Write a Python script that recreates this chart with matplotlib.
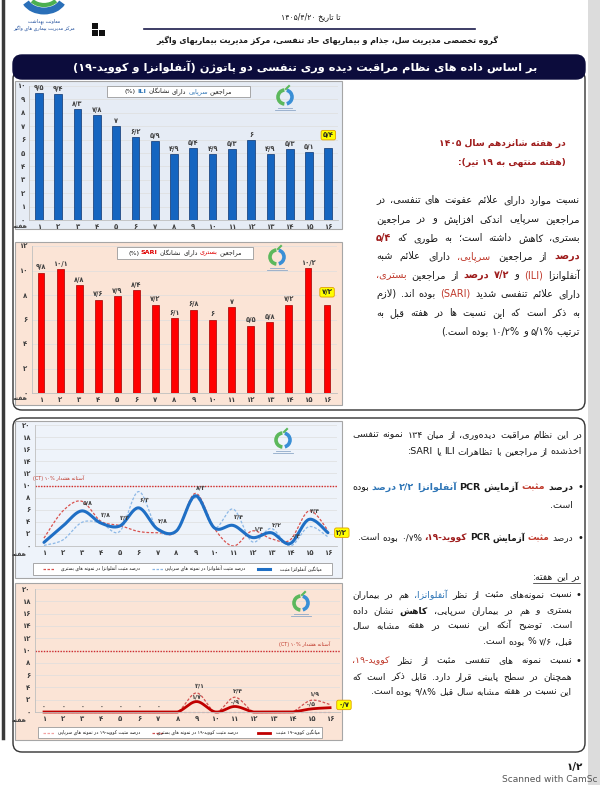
import re
import numpy as np
import matplotlib
matplotlib.use('Agg')
import matplotlib.pyplot as plt
from matplotlib.patches import FancyBboxPatch, Rectangle, Arc

plt.rcParams['font.family'] = ['DejaVu Sans']

weeks = list(range(1, 17))
ili_pct = [9.5, 9.4, 8.3, 7.8, 7.0, 6.2, 5.9, 4.9, 5.4, 4.9, 5.3, 6.0, 4.9, 5.3, 5.1, 5.4]
sari_pct = [9.8, 10.1, 8.8, 7.6, 7.9, 8.4, 7.2, 6.1, 6.8, 6.0, 7.0, 5.5, 5.8, 7.2, 10.2, 7.2]

flu_mean = [0.6, 3.3, 5.8, 3.8, 3.3, 6.3, 2.8, 2.5, 8.3, 3.0, 3.4, 1.4, 2.2, 0.4, 4.4, 2.2]
flu_outpatient = [0.1, 1.0, 3.9, 3.8, 2.4, 9.0, 2.7, 2.5, 8.0, 3.0, 6.1, 0.7, 2.9, 0.0, 3.2, 1.5]
flu_inpatient = [1.3, 5.8, 7.4, 4.1, 3.4, 2.4, 2.2, 2.4, 8.7, 2.9, 0.0, 2.5, 1.2, 1.0, 5.8, 2.6]
flu_mean_labels = [3, 4, 5, 6, 7, 9, 11, 12, 13, 14, 15]

covid_mean = [0, 0, 0, 0, 0, 0, 0, 0, 1.7, 0, 0.9, 0, 0, 0, 0.5, 0.7]
covid_inpatient = [0, 0, 0, 0, 0, 0, 0, 0, 3.1, 0, 2.4, 0, 0, 0, 1.9, 1.2]
covid_outpatient = [0, 0, 0, 0, 0, 0, 0, 0, 0, 0, 0, 0, 0, 0, 0, 0]
covid_mean_labels = [1, 2, 3, 4, 5, 6, 7, 9, 11, 15]
covid_inpatient_labels = [9, 11, 15]

alert_level = 10

# ---- minimal Persian shaping + right-to-left ordering ----
DUAL = {'ب': 0xFE8F, 'پ': 0xFB56, 'ت': 0xFE95, 'ث': 0xFE99, 'ج': 0xFE9D, 'چ': 0xFB7A,
        'ح': 0xFEA1, 'خ': 0xFEA5, 'س': 0xFEB1, 'ش': 0xFEB5, 'ص': 0xFEB9, 'ض': 0xFEBD,
        'ط': 0xFEC1, 'ظ': 0xFEC5, 'ع': 0xFEC9, 'غ': 0xFECD, 'ف': 0xFED1, 'ق': 0xFED5,
        'ک': 0xFB8E, 'گ': 0xFB92, 'ل': 0xFEDD, 'م': 0xFEE1, 'ن': 0xFEE5, 'ه': 0xFEE9,
        'ی': 0xFBFC, 'ئ': 0xFE89}
RIGHT = {'ا': 0xFE8D, 'آ': 0xFE81, 'د': 0xFEA9, 'ذ': 0xFEAB, 'ر': 0xFEAD, 'ز': 0xFEAF,
         'ژ': 0xFB8A, 'و': 0xFEED}
LTR = re.compile(r'[A-Za-z0-9\u06F0-\u06F9]+(?:[/.:\-][A-Za-z0-9\u06F0-\u06F9]+)*%?')
MIRROR = {'(': ')', ')': '('}


def shape(s):
    out, i = [], 0
    while i < len(s):
        c = s[i]
        prev = s[i - 1] if i > 0 else ''
        nxt = s[i + 1] if i + 1 < len(s) else ''
        jp = prev in DUAL
        if c == 'ل' and nxt in ('ا', 'آ'):
            out.append(chr((0xFEFB if nxt == 'ا' else 0xFEF5) + (1 if jp else 0)))
            i += 2
            continue
        if c in DUAL:
            jn = nxt in DUAL or nxt in RIGHT
            out.append(chr(DUAL[c] + ((3 if jn else 1) if jp else (2 if jn else 0))))
        elif c in RIGHT:
            out.append(chr(RIGHT[c] + (1 if jp else 0)))
        elif c != '\u200c':
            out.append(c)
        i += 1
    return ''.join(out)


def fa(s):
    s = shape(s)
    parts, pos = [], 0
    for m in LTR.finditer(s):
        if m.start() > pos:
            parts.append(('r', s[pos:m.start()]))
        parts.append(('l', m.group()))
        pos = m.end()
    if pos < len(s):
        parts.append(('r', s[pos:]))
    out = []
    for kind, p in reversed(parts):
        out.append(''.join(MIRROR.get(c, c) for c in reversed(p)) if kind == 'r' else p)
    return ''.join(out)


DIG = str.maketrans('0123456789.', '۰۱۲۳۴۵۶۷۸۹/')


def fa_num(v):
    s = f'{v:.1f}'
    if s.endswith('.0'):
        s = s[:-2]
    return s.translate(DIG)


# ---- figure ----
W, H = 600, 785
fig = plt.figure(figsize=(W / 100, H / 100), dpi=100)
fig.patch.set_facecolor('white')
page = fig.add_axes([0, 0, 1, 1], zorder=0)
top = fig.add_axes([0, 0, 1, 1], zorder=5)
for a in (page, top):
    a.set_xlim(0, W)
    a.set_ylim(H, 0)
    a.axis('off')
renderer = fig.canvas.get_renderer()

DK = '#1a1a1a'
RED_D = '#9e1b1b'
RED = '#c0392b'
BLUE = '#2e75b6'


def rich_line(ax, y, right, left, segs, size=7.3, justify=True, align='right'):
    toks = [(w, c, b) for text, c, b in segs for w in text.split()]
    objs = [ax.text(0, y, fa(w), fontsize=size, color=c, ha='right', va='center',
                    fontweight='bold' if b else 'normal') for w, c, b in toks]
    ws = [t.get_window_extent(renderer).width for t in objs]
    gap = size * 0.42
    if justify and len(objs) > 1:
        gap = (right - left - sum(ws)) / (len(objs) - 1)
    if align == 'center':
        total = sum(ws) + gap * (len(objs) - 1)
        right = (right + left) / 2 + total / 2
    x = right
    for t, w in zip(objs, ws):
        t.set_x(x)
        x -= w + gap
    return x + gap


def logo(ax, cx, cy, r):
    ax.add_patch(Arc((cx, cy), 2 * r, 2 * r, theta1=95, theta2=265, color='#5cb85c', lw=2.6))
    ax.add_patch(Arc((cx, cy), 2 * r, 2 * r, theta1=-75, theta2=75, color='#3a8fd6', lw=2.6))
    ax.plot([cx + 1, cx + 4], [cy - r - 1, cy - r - 4], color='#5cb85c', lw=1.5)
    ax.plot([cx - r, cx + r], [cy + r + 4, cy + r + 4], color='#8fa9c8', lw=0.6)
    ax.plot([cx - r - 3, cx + r + 3], [cy + r + 6, cy + r + 6], color='#8fa9c8', lw=0.6)


def chart_ax(x0, x1, ytop, ybot, ymax, ystep):
    ax = fig.add_axes([x0 / W, 1 - ybot / H, (x1 - x0) / W, (ybot - ytop) / H], zorder=2)
    ax.set_xlim(0.5, 16.5)
    ax.set_ylim(0, ymax)
    ax.patch.set_visible(False)
    for s in ('top', 'right'):
        ax.spines[s].set_visible(False)
    for s in ('left', 'bottom'):
        ax.spines[s].set_color('#bfbfbf')
        ax.spines[s].set_linewidth(0.6)
    yt = np.arange(0, ymax + 0.1, ystep)
    ax.set_yticks(yt, [fa_num(v) for v in yt])
    ax.set_xticks(weeks, [fa_num(w) for w in weeks])
    ax.tick_params(length=0, pad=3, labelsize=5, labelcolor='#404040')
    for lab in ax.get_xticklabels() + ax.get_yticklabels():
        lab.set_fontweight('bold')
    ax.grid(axis='y', color='#dedede', lw=0.5)
    ax.set_axisbelow(True)
    return ax


def highlight(ax, x, y, v, dx=0, dy=0):
    ax.annotate(fa_num(v), (x, y), xytext=(dx, dy), textcoords='offset points',
                ha='center', va='center', fontsize=5, fontweight='bold', color='#222',
                bbox=dict(boxstyle='round,pad=0.25', fc='#ffff00', ec='#e0a000', lw=0.6),
                zorder=6, annotation_clip=False)


def smooth(x, y, n=24):
    x = np.asarray(x, float)
    y = np.asarray(y, float)
    xs, ys = [], []
    for i in range(len(x) - 1):
        i0, i3 = max(i - 1, 0), min(i + 2, len(x) - 1)
        t = np.linspace(0, 1, n)[:, None]
        p0 = np.array([x[i], y[i]])
        p3 = np.array([x[i + 1], y[i + 1]])
        c1 = p0 + (np.array([x[i + 1] - x[i0], y[i + 1] - y[i0]])) / 6
        c2 = p3 - (np.array([x[i3] - x[i], y[i3] - y[i]])) / 6
        pts = (1 - t) ** 3 * p0 + 3 * (1 - t) ** 2 * t * c1 + 3 * (1 - t) * t ** 2 * c2 + t ** 3 * p3
        xs.extend(pts[:, 0])
        ys.extend(pts[:, 1])
    return xs, ys


def legend_item(ax, y, x_sample, x_text, label, color, lw, ls='-'):
    ax.plot([x_sample, x_sample + 12], [y, y], color=color, lw=lw, ls=ls)
    ax.text(x_text, y, fa(label), fontsize=3.3, color=DK, ha='right', va='center')


# ---- page decoration ----
page.add_patch(Rectangle((588, 0), 12, H, color='#dcdcdc', lw=0))
page.plot([2.5, 2.5], [0, 738], color='#3a3a3a', lw=2.5)

# header logo
page.add_patch(Arc((44, -4), 40, 30, theta1=20, theta2=160, color='#2a6fb8', lw=5))
page.add_patch(Arc((44, -6), 30, 22, theta1=30, theta2=150, color='#4caf50', lw=3))
page.text(44, 21, fa('معاونت بهداشت'), fontsize=3.4, color='#1f4e9c', ha='center', va='center')
page.text(44, 28, fa('مرکز مدیریت بیماری های واگیر'), fontsize=3.4, color='#1f4e9c', ha='center', va='center')
for rx, ry in ((92, 23), (92, 30), (99, 30)):
    page.add_patch(Rectangle((rx, ry), 6, 6, color='#111111', lw=0))

page.text(311, 17, fa('تا تاریخ ۱۴۰۵/۴/۲۰'), fontsize=5.6, color=DK, ha='center', va='center')
page.plot([144, 475], [28.5, 28.5], color='#1b1b4b', lw=1.2)
page.text(327, 40, fa('گروه تخصصی مدیریت سل، جذام و بیماریهای حاد تنفسی، مرکز مدیریت بیماریهای واگیر'),
          fontsize=5.7, fontweight='bold', color=DK, ha='center', va='center')

# section boxes
for y0, y1 in ((70, 410), (418, 752)):
    page.add_patch(FancyBboxPatch((13, y0), 572, y1 - y0, boxstyle='round,pad=0,rounding_size=9',
                                  fc='white', ec='#333333', lw=1.0))
page.add_patch(FancyBboxPatch((13, 55), 572, 24, boxstyle='round,pad=0,rounding_size=9',
                              fc='#0c0c3c', ec='#0c0c3c', lw=1))
page.text(305, 67, fa('بر اساس داده های نظام مراقبت دیده وری تنفسی دو پاتوژن (آنفلوانزا و کووید-۱۹)'),
          fontsize=8.2, fontweight='bold', color='white', ha='center', va='center')

# chart panels
panels = [(15, 81, 342, 229, '#e6ecf5'), (15, 242, 342, 405, '#fbe4d6'),
          (15, 421, 342, 578, '#eef3fa'), (15, 583, 342, 740, '#fbe4d6')]
for x0, y0, x1, y1, fc in panels:
    page.add_patch(Rectangle((x0, y0), x1 - x0, y1 - y0, fc=fc, ec='#a6a6a6', lw=0.8))

# ---- chart 1: ILI ----
ax1 = chart_ax(29.4, 338, 86, 220, 10, 1)
ax1.bar(weeks, ili_pct, width=0.4, color='#1565c0', edgecolor='#0c3570', lw=0.5)
for w, v in zip(weeks[:-1], ili_pct[:-1]):
    ax1.text(w, v + 0.15, fa_num(v), ha='center', va='bottom', fontsize=4.8,
             fontweight='bold', color='#404040')
highlight(ax1, weeks[-1], ili_pct[-1], ili_pct[-1], dy=9)
top.add_patch(Rectangle((107, 86), 143, 11, fc='white', ec='#9a9a9a', lw=0.6))
rich_line(top, 91.5, 250, 107, [('مراجعین', DK, False), ('سرپایی', BLUE, False),
                                ('دارای نشانگان', DK, False), ('ILI', BLUE, True), ('(%)', DK, False)],
          size=4.6, justify=False, align='center')
logo(top, 285, 97, 7)
top.text(20, 227, fa('هفته'), fontsize=4.5, fontweight='bold', color='#404040', ha='center', va='center')

# ---- chart 2: SARI ----
ax2 = chart_ax(31.5, 336.6, 246, 393, 12, 2)
ax2.bar(weeks, sari_pct, width=0.36, color='#ff0000', edgecolor='#a00000', lw=0.5)
for w, v in zip(weeks[:-1], sari_pct[:-1]):
    ax2.text(w, v + 0.2, fa_num(v), ha='center', va='bottom', fontsize=4.8,
             fontweight='bold', color='#404040')
highlight(ax2, weeks[-1], sari_pct[-1], sari_pct[-1], dy=9)
top.add_patch(Rectangle((117, 247), 136, 12, fc='white', ec='#9a9a9a', lw=0.6))
rich_line(top, 253, 253, 117, [('مراجعین', DK, False), ('بستری', '#e00000', False),
                               ('دارای نشانگان', DK, False), ('SARI', '#e00000', True), ('(%)', DK, False)],
          size=4.6, justify=False, align='center')
logo(top, 277, 257, 7)
top.text(20, 399, fa('هفته'), fontsize=4.5, fontweight='bold', color='#404040', ha='center', va='center')

# ---- chart 3: influenza positivity ----
ax3 = chart_ax(34.5, 337.4, 425, 546, 20, 2)
ax3.axhline(alert_level, color='#d42a2a', lw=1.0, ls=(0, (1, 1)))
sx, sy = smooth(weeks, flu_inpatient)
ax3.plot(sx, sy, color='#d9534f', lw=0.9, ls=(0, (2.2, 1.4)), clip_on=False)
sx, sy = smooth(weeks, flu_outpatient)
ax3.plot(sx, sy, color='#8db8e6', lw=0.9, ls=(0, (2.2, 1.4)), clip_on=False)
sx, sy = smooth(weeks, flu_mean)
ax3.plot(sx, sy, color='#1f6fc5', lw=2.2, clip_on=False, solid_capstyle='round')
for w in flu_mean_labels:
    ax3.annotate(fa_num(flu_mean[w - 1]), (w, flu_mean[w - 1]), xytext=(4, 4),
                 textcoords='offset points', ha='center', va='bottom', fontsize=4.5,
                 color='#404040', fontweight='bold')
highlight(ax3, weeks[-1], flu_mean[-1], flu_mean[-1], dx=10)
top.text(84, 478, fa('آستانه هشدار ۱۰% (CT)'), fontsize=3.6, color='#c0392b', ha='right', va='center')
logo(top, 283, 440, 7)
top.text(19, 555, fa('هفته'), fontsize=4.5, fontweight='bold', color='#404040', ha='center', va='center')
top.add_patch(Rectangle((33, 563), 299, 12, fc='white', ec='#9a9a9a', lw=0.6))
legend_item(top, 569, 258, 322, 'میانگین آنفلوانزا مثبت', '#1f6fc5', 2.2)
legend_item(top, 569, 152, 245, 'درصد مثبت آنفلوانزا در نمونه های سرپایی', '#8db8e6', 0.9, (0, (2, 1.2)))
legend_item(top, 569, 43, 140, 'درصد مثبت آنفلوانزا در نمونه های بستری', '#d9534f', 0.9, (0, (2, 1.2)))

# ---- chart 4: COVID-19 positivity ----
ax4 = chart_ax(34.5, 339.6, 589, 712, 20, 2)
ax4.axhline(alert_level, color='#d42a2a', lw=1.0, ls=(0, (1, 1)))
sx, sy = smooth(weeks, covid_outpatient)
ax4.plot(sx, sy, color='#f2a1a1', lw=0.9, ls=(0, (2.2, 1.4)), clip_on=False)
sx, sy = smooth(weeks, covid_inpatient)
ax4.plot(sx, np.maximum(sy, 0), color='#d05050', lw=0.9, ls=(0, (2.2, 1.4)), clip_on=False)
sx, sy = smooth(weeks, covid_mean)
ax4.plot(sx, np.maximum(sy, 0), color='#c00000', lw=2.0, clip_on=False)
for w in covid_mean_labels:
    ax4.annotate(fa_num(covid_mean[w - 1]), (w, covid_mean[w - 1]), xytext=(0, 1.5),
                 textcoords='offset points', ha='center', va='bottom', fontsize=4.5,
                 color='#404040', fontweight='bold')
for w in covid_inpatient_labels:
    ax4.annotate(fa_num(covid_inpatient[w - 1]), (w, covid_inpatient[w - 1]), xytext=(2, 3),
                 textcoords='offset points', ha='center', va='bottom', fontsize=4.5,
                 color='#404040', fontweight='bold')
highlight(ax4, weeks[-1], covid_mean[-1], covid_mean[-1], dx=10, dy=2)
top.text(330, 644, fa('آستانه هشدار ۱۰% (CT)'), fontsize=3.6, color='#c0392b', ha='right', va='center')
logo(top, 301, 603, 7)
top.text(19, 720, fa('هفته'), fontsize=4.5, fontweight='bold', color='#404040', ha='center', va='center')
top.add_patch(Rectangle((38, 727), 284, 11, fc='white', ec='#9a9a9a', lw=0.6))
legend_item(top, 732.5, 258, 320, 'میانگین کووید-۱۹ مثبت', '#c00000', 2.0)
legend_item(top, 732.5, 152, 238, 'درصد مثبت کووید-۱۹ در نمونه های بستری', '#d05050', 0.9, (0, (2, 1.2)))
legend_item(top, 732.5, 43, 140, 'درصد مثبت کووید-۱۹ در نمونه های سرپایی', '#f2a1a1', 0.9, (0, (2, 1.2)))

# ---- right-hand text, section 1 ----
page.text(566, 143, fa('در هفته شانزدهم سال ۱۴۰۵'), fontsize=6.6, fontweight='bold', color=RED_D,
          ha='right', va='center')
page.text(566, 162, fa('(هفته منتهی به ۱۹ تیر):'), fontsize=6.6, fontweight='bold', color=RED_D,
          ha='right', va='center')
para = [
    [('نسبت موارد دارای علائم عفونت های تنفسی، در', DK, False)],
    [('مراجعین سرپایی اندکی افزایش و در مراجعین', DK, False)],
    [('بستری، کاهش داشته است؛ به طوری که', DK, False), ('۵/۴', RED_D, True)],
    [('درصد', RED_D, True), ('از مراجعین', DK, False), ('سرپایی،', RED, False), ('دارای علائم شبه', DK, False)],
    [('آنفلوانزا', DK, False), ('(ILI)', RED, False), ('و', DK, False), ('۷/۲ درصد', RED_D, True),
     ('از مراجعین', DK, False), ('بستری،', RED, False)],
    [('دارای علائم تنفسی شدید', DK, False), ('(SARI)', RED, False), ('بوده اند. (لازم', DK, False)],
    [('به ذکر است که این نسبت ها در هفته قبل به', DK, False)],
    [('ترتیب ۵/۱% و ۱۰/۲% بوده است.)', DK, False)],
]
for i, segs in enumerate(para):
    rich_line(page, 200 + i * 18.8, 580, 376, segs, size=7.0, justify=i < len(para) - 1)

# ---- right-hand text, section 2 ----
rich_line(page, 435, 582, 352, [('در این نظام مراقبت دیده\u200cوری، از میان ۱۳۴ نمونه تنفسی', DK, False)], size=6.8)
rich_line(page, 452, 582, 352, [('اخذشده از مراجعین با تظاهرات ILI یا SARI:', DK, False)], size=6.8, justify=False)
page.text(580, 487, '•', fontsize=7, color=DK, ha='center', va='center')
rich_line(page, 487, 573, 352, [('درصد', DK, True), ('مثبت', RED, True), ('آزمایش PCR', DK, True),
                                ('آنفلوانزا ۲/۲ درصد', BLUE, True), ('بوده', DK, False)], size=6.8)
rich_line(page, 505, 573, 352, [('است.', DK, False)], size=6.8, justify=False)
page.text(580, 538, '•', fontsize=7, color=DK, ha='center', va='center')
rich_line(page, 538, 573, 352, [('درصد', DK, False), ('مثبت', RED, True), ('آزمایش PCR', DK, True),
                                ('کووید-۱۹،', RED_D, True), ('۰/۷% بوده است.', DK, False)],
          size=6.4, justify=False)

x_end = rich_line(page, 577, 580, 352, [('در این هفته:', DK, False)], size=6.7, justify=False)
page.plot([x_end, 580], [583, 583], color=DK, lw=0.5)
block = [
    (595, True, True, [('نسبت نمونه\u200cهای مثبت از نظر', DK, False), ('آنفلوانزا،', BLUE, False),
                      ('هم در بیماران', DK, False)]),
    (611, False, True, [('بستری و هم در بیماران سرپایی،', DK, False), ('کاهش', DK, True),
                       ('نشان داده', DK, False)]),
    (626, False, True, [('است. توضیح آنکه این نسبت در هفته مشابه سال', DK, False)]),
    (642, False, False, [('قبل، ۷/۶ % بوده است.', DK, False)]),
    (661, True, True, [('نسبت نمونه های تنفسی مثبت از نظر', DK, False), ('کووید-۱۹،', RED, False)]),
    (677, False, True, [('همچنان در سطح پایینی قرار دارد. قابل ذکر است که', DK, False)]),
    (692, False, False, [('این نسبت در هفته مشابه سال قبل ۹/۸% بوده است.', DK, False)]),
]
for y, bullet, just, segs in block:
    if bullet:
        page.text(578, y, '•', fontsize=7, color=DK, ha='center', va='center')
    rich_line(page, y, 572, 352, segs, size=6.7, justify=just)

page.text(575, 767, fa('۱/۲'), fontsize=7.5, fontweight='bold', color=DK, ha='center', va='center')
page.text(598, 779, 'Scanned with CamSc', fontsize=6.5, color='#555555', ha='right', va='center')

fig.savefig('out.png', dpi=100)
